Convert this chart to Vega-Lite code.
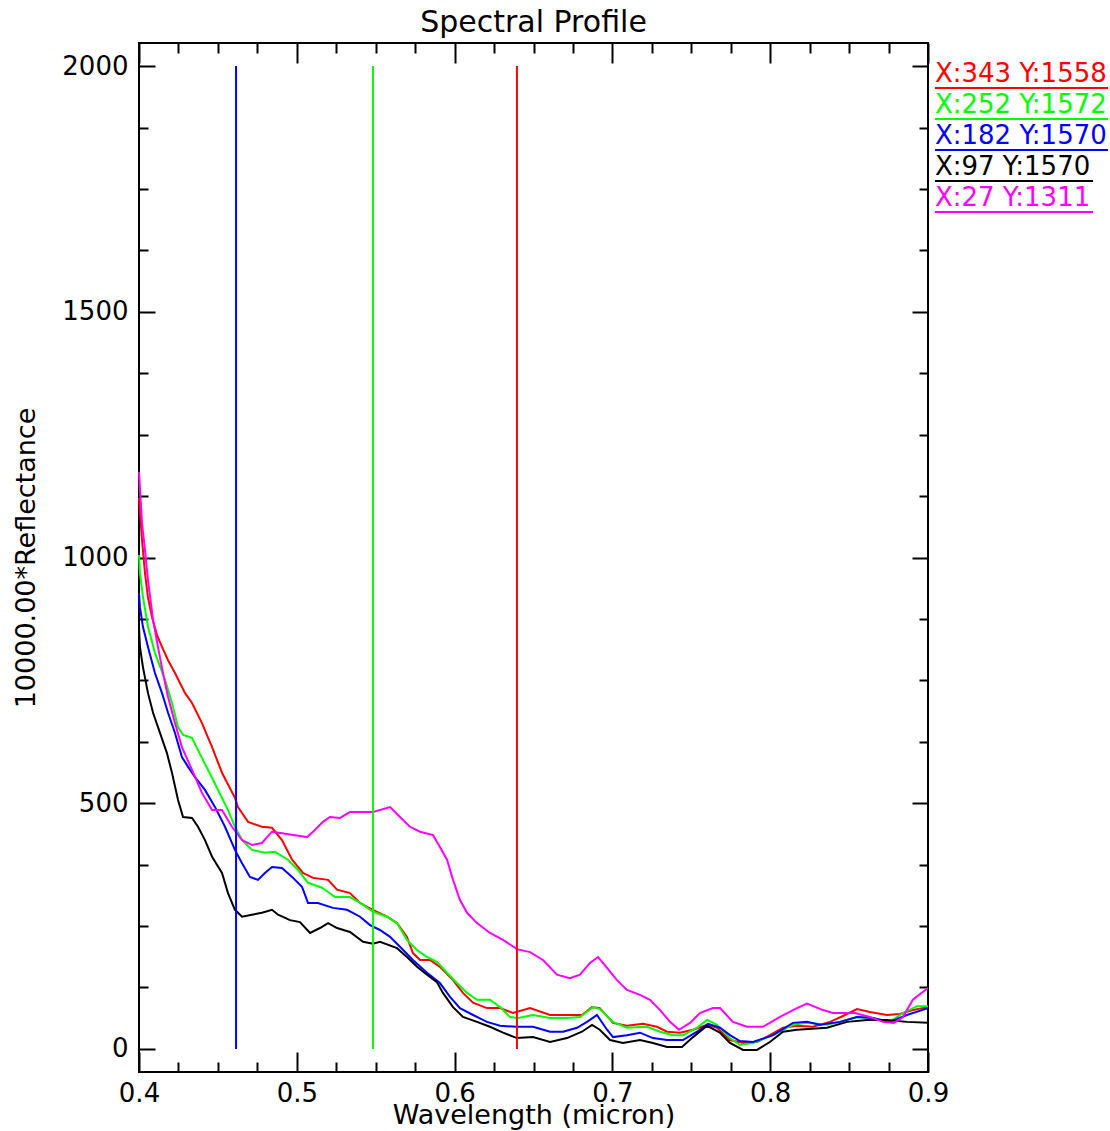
{
  "$schema": "https://vega.github.io/schema/vega-lite/v6.json",
  "width": 789,
  "height": 1029,
  "autosize": {"type": "none"},
  "padding": {"left": 139, "top": 43, "right": 182, "bottom": 59},
  "background": "#ffffff",
  "title": {
    "text": "Spectral Profile",
    "font": "DejaVu Sans",
    "fontSize": 30,
    "fontWeight": "normal",
    "color": "#000000",
    "anchor": "middle",
    "frame": "group",
    "baseline": "alphabetic",
    "offset": -20
  },
  "datasets": {
    "spectra": [
      {"series": "X:343 Y:1558", "wl": 0.4, "value": 1121},
      {"series": "X:343 Y:1558", "wl": 0.4019, "value": 1036},
      {"series": "X:343 Y:1558", "wl": 0.4038, "value": 968},
      {"series": "X:343 Y:1558", "wl": 0.4057, "value": 918},
      {"series": "X:343 Y:1558", "wl": 0.4082, "value": 879},
      {"series": "X:343 Y:1558", "wl": 0.4114, "value": 842},
      {"series": "X:343 Y:1558", "wl": 0.4146, "value": 818},
      {"series": "X:343 Y:1558", "wl": 0.4184, "value": 791},
      {"series": "X:343 Y:1558", "wl": 0.4228, "value": 765},
      {"series": "X:343 Y:1558", "wl": 0.4292, "value": 724},
      {"series": "X:343 Y:1558", "wl": 0.4336, "value": 704},
      {"series": "X:343 Y:1558", "wl": 0.4399, "value": 663},
      {"series": "X:343 Y:1558", "wl": 0.4463, "value": 614},
      {"series": "X:343 Y:1558", "wl": 0.4526, "value": 562},
      {"series": "X:343 Y:1558", "wl": 0.4608, "value": 511},
      {"series": "X:343 Y:1558", "wl": 0.4627, "value": 492},
      {"series": "X:343 Y:1558", "wl": 0.4691, "value": 462},
      {"series": "X:343 Y:1558", "wl": 0.4779, "value": 452},
      {"series": "X:343 Y:1558", "wl": 0.4843, "value": 450},
      {"series": "X:343 Y:1558", "wl": 0.4906, "value": 425},
      {"series": "X:343 Y:1558", "wl": 0.497, "value": 385},
      {"series": "X:343 Y:1558", "wl": 0.5039, "value": 358},
      {"series": "X:343 Y:1558", "wl": 0.5103, "value": 348},
      {"series": "X:343 Y:1558", "wl": 0.5198, "value": 344},
      {"series": "X:343 Y:1558", "wl": 0.5255, "value": 324},
      {"series": "X:343 Y:1558", "wl": 0.5337, "value": 317},
      {"series": "X:343 Y:1558", "wl": 0.5401, "value": 297},
      {"series": "X:343 Y:1558", "wl": 0.5445, "value": 289},
      {"series": "X:343 Y:1558", "wl": 0.5508, "value": 279},
      {"series": "X:343 Y:1558", "wl": 0.5572, "value": 269},
      {"series": "X:343 Y:1558", "wl": 0.5635, "value": 256},
      {"series": "X:343 Y:1558", "wl": 0.5698, "value": 228},
      {"series": "X:343 Y:1558", "wl": 0.5736, "value": 195},
      {"series": "X:343 Y:1558", "wl": 0.5781, "value": 181},
      {"series": "X:343 Y:1558", "wl": 0.5844, "value": 181},
      {"series": "X:343 Y:1558", "wl": 0.5907, "value": 167},
      {"series": "X:343 Y:1558", "wl": 0.599, "value": 140},
      {"series": "X:343 Y:1558", "wl": 0.6053, "value": 114},
      {"series": "X:343 Y:1558", "wl": 0.6117, "value": 94},
      {"series": "X:343 Y:1558", "wl": 0.6205, "value": 83},
      {"series": "X:343 Y:1558", "wl": 0.6288, "value": 83},
      {"series": "X:343 Y:1558", "wl": 0.637, "value": 73},
      {"series": "X:343 Y:1558", "wl": 0.6478, "value": 83},
      {"series": "X:343 Y:1558", "wl": 0.6605, "value": 69},
      {"series": "X:343 Y:1558", "wl": 0.6706, "value": 69},
      {"series": "X:343 Y:1558", "wl": 0.6807, "value": 69},
      {"series": "X:343 Y:1558", "wl": 0.6871, "value": 85},
      {"series": "X:343 Y:1558", "wl": 0.692, "value": 83},
      {"series": "X:343 Y:1558", "wl": 0.7004, "value": 53},
      {"series": "X:343 Y:1558", "wl": 0.7092, "value": 47},
      {"series": "X:343 Y:1558", "wl": 0.7194, "value": 51},
      {"series": "X:343 Y:1558", "wl": 0.7283, "value": 45},
      {"series": "X:343 Y:1558", "wl": 0.7346, "value": 35},
      {"series": "X:343 Y:1558", "wl": 0.7428, "value": 33},
      {"series": "X:343 Y:1558", "wl": 0.7511, "value": 39},
      {"series": "X:343 Y:1558", "wl": 0.76, "value": 49},
      {"series": "X:343 Y:1558", "wl": 0.7663, "value": 43},
      {"series": "X:343 Y:1558", "wl": 0.7745, "value": 18},
      {"series": "X:343 Y:1558", "wl": 0.7828, "value": 12},
      {"series": "X:343 Y:1558", "wl": 0.7916, "value": 14},
      {"series": "X:343 Y:1558", "wl": 0.7998, "value": 28},
      {"series": "X:343 Y:1558", "wl": 0.8081, "value": 43},
      {"series": "X:343 Y:1558", "wl": 0.817, "value": 47},
      {"series": "X:343 Y:1558", "wl": 0.8271, "value": 45},
      {"series": "X:343 Y:1558", "wl": 0.8379, "value": 55},
      {"series": "X:343 Y:1558", "wl": 0.8461, "value": 67},
      {"series": "X:343 Y:1558", "wl": 0.855, "value": 81},
      {"series": "X:343 Y:1558", "wl": 0.8632, "value": 75},
      {"series": "X:343 Y:1558", "wl": 0.874, "value": 69},
      {"series": "X:343 Y:1558", "wl": 0.8822, "value": 71},
      {"series": "X:343 Y:1558", "wl": 0.8904, "value": 79},
      {"series": "X:343 Y:1558", "wl": 0.9, "value": 85},

      {"series": "X:252 Y:1572", "wl": 0.4, "value": 1005},
      {"series": "X:252 Y:1572", "wl": 0.4006, "value": 968},
      {"series": "X:252 Y:1572", "wl": 0.4025, "value": 920},
      {"series": "X:252 Y:1572", "wl": 0.4057, "value": 859},
      {"series": "X:252 Y:1572", "wl": 0.4101, "value": 806},
      {"series": "X:252 Y:1572", "wl": 0.4165, "value": 751},
      {"series": "X:252 Y:1572", "wl": 0.4209, "value": 704},
      {"series": "X:252 Y:1572", "wl": 0.4247, "value": 655},
      {"series": "X:252 Y:1572", "wl": 0.4279, "value": 639},
      {"series": "X:252 Y:1572", "wl": 0.4336, "value": 633},
      {"series": "X:252 Y:1572", "wl": 0.4374, "value": 608},
      {"series": "X:252 Y:1572", "wl": 0.4437, "value": 568},
      {"series": "X:252 Y:1572", "wl": 0.4501, "value": 527},
      {"series": "X:252 Y:1572", "wl": 0.4564, "value": 486},
      {"series": "X:252 Y:1572", "wl": 0.4608, "value": 452},
      {"series": "X:252 Y:1572", "wl": 0.4653, "value": 425},
      {"series": "X:252 Y:1572", "wl": 0.4716, "value": 405},
      {"series": "X:252 Y:1572", "wl": 0.4798, "value": 399},
      {"series": "X:252 Y:1572", "wl": 0.4862, "value": 401},
      {"series": "X:252 Y:1572", "wl": 0.4944, "value": 385},
      {"series": "X:252 Y:1572", "wl": 0.5008, "value": 364},
      {"series": "X:252 Y:1572", "wl": 0.5071, "value": 338},
      {"series": "X:252 Y:1572", "wl": 0.516, "value": 328},
      {"series": "X:252 Y:1572", "wl": 0.5242, "value": 309},
      {"series": "X:252 Y:1572", "wl": 0.5337, "value": 309},
      {"series": "X:252 Y:1572", "wl": 0.5401, "value": 297},
      {"series": "X:252 Y:1572", "wl": 0.5483, "value": 279},
      {"series": "X:252 Y:1572", "wl": 0.5572, "value": 269},
      {"series": "X:252 Y:1572", "wl": 0.5635, "value": 256},
      {"series": "X:252 Y:1572", "wl": 0.5698, "value": 222},
      {"series": "X:252 Y:1572", "wl": 0.5762, "value": 201},
      {"series": "X:252 Y:1572", "wl": 0.5825, "value": 187},
      {"series": "X:252 Y:1572", "wl": 0.5888, "value": 177},
      {"series": "X:252 Y:1572", "wl": 0.5952, "value": 155},
      {"series": "X:252 Y:1572", "wl": 0.6015, "value": 134},
      {"series": "X:252 Y:1572", "wl": 0.6079, "value": 114},
      {"series": "X:252 Y:1572", "wl": 0.6142, "value": 100},
      {"series": "X:252 Y:1572", "wl": 0.6224, "value": 100},
      {"series": "X:252 Y:1572", "wl": 0.6288, "value": 85},
      {"series": "X:252 Y:1572", "wl": 0.6351, "value": 65},
      {"series": "X:252 Y:1572", "wl": 0.6402, "value": 63},
      {"series": "X:252 Y:1572", "wl": 0.6497, "value": 69},
      {"series": "X:252 Y:1572", "wl": 0.6605, "value": 63},
      {"series": "X:252 Y:1572", "wl": 0.6712, "value": 63},
      {"series": "X:252 Y:1572", "wl": 0.6795, "value": 65},
      {"series": "X:252 Y:1572", "wl": 0.6877, "value": 85},
      {"series": "X:252 Y:1572", "wl": 0.692, "value": 81},
      {"series": "X:252 Y:1572", "wl": 0.7004, "value": 55},
      {"series": "X:252 Y:1572", "wl": 0.7092, "value": 43},
      {"series": "X:252 Y:1572", "wl": 0.7219, "value": 45},
      {"series": "X:252 Y:1572", "wl": 0.7302, "value": 35},
      {"series": "X:252 Y:1572", "wl": 0.7384, "value": 28},
      {"series": "X:252 Y:1572", "wl": 0.7447, "value": 28},
      {"series": "X:252 Y:1572", "wl": 0.7536, "value": 43},
      {"series": "X:252 Y:1572", "wl": 0.76, "value": 59},
      {"series": "X:252 Y:1572", "wl": 0.7663, "value": 49},
      {"series": "X:252 Y:1572", "wl": 0.7745, "value": 22},
      {"series": "X:252 Y:1572", "wl": 0.7808, "value": 8},
      {"series": "X:252 Y:1572", "wl": 0.7891, "value": 12},
      {"series": "X:252 Y:1572", "wl": 0.8018, "value": 28},
      {"series": "X:252 Y:1572", "wl": 0.8144, "value": 49},
      {"series": "X:252 Y:1572", "wl": 0.8233, "value": 53},
      {"series": "X:252 Y:1572", "wl": 0.836, "value": 49},
      {"series": "X:252 Y:1572", "wl": 0.8442, "value": 55},
      {"series": "X:252 Y:1572", "wl": 0.855, "value": 65},
      {"series": "X:252 Y:1572", "wl": 0.8651, "value": 63},
      {"series": "X:252 Y:1572", "wl": 0.8758, "value": 55},
      {"series": "X:252 Y:1572", "wl": 0.8841, "value": 73},
      {"series": "X:252 Y:1572", "wl": 0.893, "value": 87},
      {"series": "X:252 Y:1572", "wl": 0.9, "value": 87},

      {"series": "X:182 Y:1570", "wl": 0.4, "value": 928},
      {"series": "X:182 Y:1570", "wl": 0.4006, "value": 899},
      {"series": "X:182 Y:1570", "wl": 0.4025, "value": 859},
      {"series": "X:182 Y:1570", "wl": 0.4057, "value": 818},
      {"series": "X:182 Y:1570", "wl": 0.4101, "value": 765},
      {"series": "X:182 Y:1570", "wl": 0.4146, "value": 724},
      {"series": "X:182 Y:1570", "wl": 0.4184, "value": 684},
      {"series": "X:182 Y:1570", "wl": 0.4228, "value": 643},
      {"series": "X:182 Y:1570", "wl": 0.4272, "value": 594},
      {"series": "X:182 Y:1570", "wl": 0.4311, "value": 574},
      {"series": "X:182 Y:1570", "wl": 0.4355, "value": 553},
      {"series": "X:182 Y:1570", "wl": 0.4418, "value": 527},
      {"series": "X:182 Y:1570", "wl": 0.4482, "value": 492},
      {"series": "X:182 Y:1570", "wl": 0.4545, "value": 452},
      {"series": "X:182 Y:1570", "wl": 0.4608, "value": 405},
      {"series": "X:182 Y:1570", "wl": 0.4653, "value": 378},
      {"series": "X:182 Y:1570", "wl": 0.4703, "value": 350},
      {"series": "X:182 Y:1570", "wl": 0.4754, "value": 344},
      {"series": "X:182 Y:1570", "wl": 0.4798, "value": 358},
      {"series": "X:182 Y:1570", "wl": 0.4843, "value": 370},
      {"series": "X:182 Y:1570", "wl": 0.4906, "value": 368},
      {"series": "X:182 Y:1570", "wl": 0.497, "value": 350},
      {"series": "X:182 Y:1570", "wl": 0.5033, "value": 330},
      {"series": "X:182 Y:1570", "wl": 0.5071, "value": 297},
      {"series": "X:182 Y:1570", "wl": 0.5134, "value": 297},
      {"series": "X:182 Y:1570", "wl": 0.5229, "value": 287},
      {"series": "X:182 Y:1570", "wl": 0.5318, "value": 283},
      {"series": "X:182 Y:1570", "wl": 0.5401, "value": 269},
      {"series": "X:182 Y:1570", "wl": 0.5464, "value": 252},
      {"series": "X:182 Y:1570", "wl": 0.5527, "value": 242},
      {"series": "X:182 Y:1570", "wl": 0.5591, "value": 228},
      {"series": "X:182 Y:1570", "wl": 0.5654, "value": 208},
      {"series": "X:182 Y:1570", "wl": 0.5736, "value": 181},
      {"series": "X:182 Y:1570", "wl": 0.5825, "value": 155},
      {"series": "X:182 Y:1570", "wl": 0.5907, "value": 134},
      {"series": "X:182 Y:1570", "wl": 0.5971, "value": 106},
      {"series": "X:182 Y:1570", "wl": 0.6034, "value": 83},
      {"series": "X:182 Y:1570", "wl": 0.6117, "value": 69},
      {"series": "X:182 Y:1570", "wl": 0.6205, "value": 55},
      {"series": "X:182 Y:1570", "wl": 0.6288, "value": 47},
      {"series": "X:182 Y:1570", "wl": 0.6395, "value": 45},
      {"series": "X:182 Y:1570", "wl": 0.6497, "value": 45},
      {"series": "X:182 Y:1570", "wl": 0.6605, "value": 35},
      {"series": "X:182 Y:1570", "wl": 0.6687, "value": 35},
      {"series": "X:182 Y:1570", "wl": 0.6776, "value": 43},
      {"series": "X:182 Y:1570", "wl": 0.6839, "value": 55},
      {"series": "X:182 Y:1570", "wl": 0.6902, "value": 69},
      {"series": "X:182 Y:1570", "wl": 0.6966, "value": 39},
      {"series": "X:182 Y:1570", "wl": 0.7004, "value": 24},
      {"series": "X:182 Y:1570", "wl": 0.7092, "value": 28},
      {"series": "X:182 Y:1570", "wl": 0.7175, "value": 33},
      {"series": "X:182 Y:1570", "wl": 0.7257, "value": 22},
      {"series": "X:182 Y:1570", "wl": 0.7346, "value": 18},
      {"series": "X:182 Y:1570", "wl": 0.7447, "value": 18},
      {"series": "X:182 Y:1570", "wl": 0.7536, "value": 35},
      {"series": "X:182 Y:1570", "wl": 0.7606, "value": 51},
      {"series": "X:182 Y:1570", "wl": 0.7682, "value": 43},
      {"series": "X:182 Y:1570", "wl": 0.7745, "value": 28},
      {"series": "X:182 Y:1570", "wl": 0.7808, "value": 16},
      {"series": "X:182 Y:1570", "wl": 0.7891, "value": 14},
      {"series": "X:182 Y:1570", "wl": 0.8018, "value": 28},
      {"series": "X:182 Y:1570", "wl": 0.8144, "value": 53},
      {"series": "X:182 Y:1570", "wl": 0.8233, "value": 55},
      {"series": "X:182 Y:1570", "wl": 0.8316, "value": 49},
      {"series": "X:182 Y:1570", "wl": 0.8442, "value": 55},
      {"series": "X:182 Y:1570", "wl": 0.855, "value": 65},
      {"series": "X:182 Y:1570", "wl": 0.8651, "value": 63},
      {"series": "X:182 Y:1570", "wl": 0.8758, "value": 55},
      {"series": "X:182 Y:1570", "wl": 0.8866, "value": 69},
      {"series": "X:182 Y:1570", "wl": 0.9, "value": 83},

      {"series": "X:97 Y:1570", "wl": 0.4, "value": 859},
      {"series": "X:97 Y:1570", "wl": 0.4006, "value": 818},
      {"series": "X:97 Y:1570", "wl": 0.4025, "value": 777},
      {"series": "X:97 Y:1570", "wl": 0.4057, "value": 724},
      {"series": "X:97 Y:1570", "wl": 0.4089, "value": 684},
      {"series": "X:97 Y:1570", "wl": 0.4133, "value": 643},
      {"series": "X:97 Y:1570", "wl": 0.4177, "value": 602},
      {"series": "X:97 Y:1570", "wl": 0.4209, "value": 562},
      {"series": "X:97 Y:1570", "wl": 0.4247, "value": 507},
      {"series": "X:97 Y:1570", "wl": 0.4279, "value": 472},
      {"series": "X:97 Y:1570", "wl": 0.4336, "value": 470},
      {"series": "X:97 Y:1570", "wl": 0.4374, "value": 452},
      {"series": "X:97 Y:1570", "wl": 0.4418, "value": 425},
      {"series": "X:97 Y:1570", "wl": 0.4463, "value": 391},
      {"series": "X:97 Y:1570", "wl": 0.4526, "value": 358},
      {"series": "X:97 Y:1570", "wl": 0.4564, "value": 317},
      {"series": "X:97 Y:1570", "wl": 0.4608, "value": 283},
      {"series": "X:97 Y:1570", "wl": 0.4653, "value": 269},
      {"series": "X:97 Y:1570", "wl": 0.4716, "value": 273},
      {"series": "X:97 Y:1570", "wl": 0.4779, "value": 277},
      {"series": "X:97 Y:1570", "wl": 0.4843, "value": 283},
      {"series": "X:97 Y:1570", "wl": 0.4881, "value": 273},
      {"series": "X:97 Y:1570", "wl": 0.4957, "value": 262},
      {"series": "X:97 Y:1570", "wl": 0.502, "value": 258},
      {"series": "X:97 Y:1570", "wl": 0.5084, "value": 236},
      {"series": "X:97 Y:1570", "wl": 0.5147, "value": 246},
      {"series": "X:97 Y:1570", "wl": 0.5198, "value": 256},
      {"series": "X:97 Y:1570", "wl": 0.5255, "value": 246},
      {"series": "X:97 Y:1570", "wl": 0.5337, "value": 238},
      {"series": "X:97 Y:1570", "wl": 0.542, "value": 218},
      {"series": "X:97 Y:1570", "wl": 0.5483, "value": 214},
      {"series": "X:97 Y:1570", "wl": 0.5527, "value": 218},
      {"series": "X:97 Y:1570", "wl": 0.5635, "value": 205},
      {"series": "X:97 Y:1570", "wl": 0.5698, "value": 187},
      {"series": "X:97 Y:1570", "wl": 0.5762, "value": 167},
      {"series": "X:97 Y:1570", "wl": 0.5825, "value": 151},
      {"series": "X:97 Y:1570", "wl": 0.5888, "value": 136},
      {"series": "X:97 Y:1570", "wl": 0.5926, "value": 114},
      {"series": "X:97 Y:1570", "wl": 0.599, "value": 85},
      {"series": "X:97 Y:1570", "wl": 0.6053, "value": 65},
      {"series": "X:97 Y:1570", "wl": 0.6142, "value": 55},
      {"series": "X:97 Y:1570", "wl": 0.6224, "value": 45},
      {"series": "X:97 Y:1570", "wl": 0.6307, "value": 33},
      {"series": "X:97 Y:1570", "wl": 0.6395, "value": 22},
      {"series": "X:97 Y:1570", "wl": 0.6497, "value": 24},
      {"series": "X:97 Y:1570", "wl": 0.6605, "value": 14},
      {"series": "X:97 Y:1570", "wl": 0.6712, "value": 22},
      {"series": "X:97 Y:1570", "wl": 0.6807, "value": 35},
      {"series": "X:97 Y:1570", "wl": 0.6871, "value": 49},
      {"series": "X:97 Y:1570", "wl": 0.692, "value": 39},
      {"series": "X:97 Y:1570", "wl": 0.6985, "value": 18},
      {"series": "X:97 Y:1570", "wl": 0.7067, "value": 12},
      {"series": "X:97 Y:1570", "wl": 0.7175, "value": 18},
      {"series": "X:97 Y:1570", "wl": 0.7257, "value": 12},
      {"series": "X:97 Y:1570", "wl": 0.7346, "value": 4},
      {"series": "X:97 Y:1570", "wl": 0.7441, "value": 4},
      {"series": "X:97 Y:1570", "wl": 0.7511, "value": 24},
      {"series": "X:97 Y:1570", "wl": 0.76, "value": 47},
      {"series": "X:97 Y:1570", "wl": 0.7682, "value": 33},
      {"series": "X:97 Y:1570", "wl": 0.7745, "value": 12},
      {"series": "X:97 Y:1570", "wl": 0.7828, "value": -2},
      {"series": "X:97 Y:1570", "wl": 0.7916, "value": -2},
      {"series": "X:97 Y:1570", "wl": 0.7998, "value": 14},
      {"series": "X:97 Y:1570", "wl": 0.8081, "value": 35},
      {"series": "X:97 Y:1570", "wl": 0.817, "value": 39},
      {"series": "X:97 Y:1570", "wl": 0.836, "value": 43},
      {"series": "X:97 Y:1570", "wl": 0.8487, "value": 55},
      {"series": "X:97 Y:1570", "wl": 0.8613, "value": 59},
      {"series": "X:97 Y:1570", "wl": 0.874, "value": 59},
      {"series": "X:97 Y:1570", "wl": 0.8866, "value": 55},
      {"series": "X:97 Y:1570", "wl": 0.9, "value": 53},

      {"series": "X:27 Y:1311", "wl": 0.4, "value": 1174},
      {"series": "X:27 Y:1311", "wl": 0.4019, "value": 1070},
      {"series": "X:27 Y:1311", "wl": 0.4038, "value": 1015},
      {"series": "X:27 Y:1311", "wl": 0.4057, "value": 954},
      {"series": "X:27 Y:1311", "wl": 0.4089, "value": 873},
      {"series": "X:27 Y:1311", "wl": 0.412, "value": 818},
      {"series": "X:27 Y:1311", "wl": 0.4152, "value": 765},
      {"series": "X:27 Y:1311", "wl": 0.4184, "value": 716},
      {"series": "X:27 Y:1311", "wl": 0.4228, "value": 663},
      {"series": "X:27 Y:1311", "wl": 0.4272, "value": 614},
      {"series": "X:27 Y:1311", "wl": 0.4336, "value": 568},
      {"series": "X:27 Y:1311", "wl": 0.4399, "value": 521},
      {"series": "X:27 Y:1311", "wl": 0.4463, "value": 486},
      {"series": "X:27 Y:1311", "wl": 0.4526, "value": 486},
      {"series": "X:27 Y:1311", "wl": 0.4589, "value": 452},
      {"series": "X:27 Y:1311", "wl": 0.4653, "value": 425},
      {"series": "X:27 Y:1311", "wl": 0.4716, "value": 415},
      {"series": "X:27 Y:1311", "wl": 0.4779, "value": 419},
      {"series": "X:27 Y:1311", "wl": 0.4843, "value": 442},
      {"series": "X:27 Y:1311", "wl": 0.4906, "value": 439},
      {"series": "X:27 Y:1311", "wl": 0.4989, "value": 435},
      {"series": "X:27 Y:1311", "wl": 0.5065, "value": 431},
      {"series": "X:27 Y:1311", "wl": 0.5103, "value": 442},
      {"series": "X:27 Y:1311", "wl": 0.5166, "value": 462},
      {"series": "X:27 Y:1311", "wl": 0.521, "value": 472},
      {"series": "X:27 Y:1311", "wl": 0.5274, "value": 470},
      {"series": "X:27 Y:1311", "wl": 0.5337, "value": 482},
      {"series": "X:27 Y:1311", "wl": 0.5401, "value": 482},
      {"series": "X:27 Y:1311", "wl": 0.5483, "value": 482},
      {"series": "X:27 Y:1311", "wl": 0.5591, "value": 492},
      {"series": "X:27 Y:1311", "wl": 0.5654, "value": 472},
      {"series": "X:27 Y:1311", "wl": 0.5717, "value": 452},
      {"series": "X:27 Y:1311", "wl": 0.5781, "value": 442},
      {"series": "X:27 Y:1311", "wl": 0.5863, "value": 435},
      {"series": "X:27 Y:1311", "wl": 0.5907, "value": 411},
      {"series": "X:27 Y:1311", "wl": 0.5952, "value": 385},
      {"series": "X:27 Y:1311", "wl": 0.599, "value": 344},
      {"series": "X:27 Y:1311", "wl": 0.6034, "value": 303},
      {"series": "X:27 Y:1311", "wl": 0.6079, "value": 277},
      {"series": "X:27 Y:1311", "wl": 0.6142, "value": 256},
      {"series": "X:27 Y:1311", "wl": 0.6224, "value": 236},
      {"series": "X:27 Y:1311", "wl": 0.6307, "value": 222},
      {"series": "X:27 Y:1311", "wl": 0.6395, "value": 203},
      {"series": "X:27 Y:1311", "wl": 0.6478, "value": 197},
      {"series": "X:27 Y:1311", "wl": 0.656, "value": 181},
      {"series": "X:27 Y:1311", "wl": 0.6649, "value": 151},
      {"series": "X:27 Y:1311", "wl": 0.6731, "value": 144},
      {"series": "X:27 Y:1311", "wl": 0.6795, "value": 151},
      {"series": "X:27 Y:1311", "wl": 0.6858, "value": 175},
      {"series": "X:27 Y:1311", "wl": 0.6909, "value": 187},
      {"series": "X:27 Y:1311", "wl": 0.6966, "value": 165},
      {"series": "X:27 Y:1311", "wl": 0.7029, "value": 140},
      {"series": "X:27 Y:1311", "wl": 0.7092, "value": 120},
      {"series": "X:27 Y:1311", "wl": 0.7175, "value": 110},
      {"series": "X:27 Y:1311", "wl": 0.7238, "value": 100},
      {"series": "X:27 Y:1311", "wl": 0.7302, "value": 79},
      {"series": "X:27 Y:1311", "wl": 0.7365, "value": 55},
      {"series": "X:27 Y:1311", "wl": 0.7422, "value": 39},
      {"series": "X:27 Y:1311", "wl": 0.7492, "value": 53},
      {"series": "X:27 Y:1311", "wl": 0.7555, "value": 73},
      {"series": "X:27 Y:1311", "wl": 0.7637, "value": 83},
      {"series": "X:27 Y:1311", "wl": 0.7682, "value": 83},
      {"series": "X:27 Y:1311", "wl": 0.7764, "value": 55},
      {"series": "X:27 Y:1311", "wl": 0.7853, "value": 45},
      {"series": "X:27 Y:1311", "wl": 0.7954, "value": 45},
      {"series": "X:27 Y:1311", "wl": 0.8062, "value": 65},
      {"series": "X:27 Y:1311", "wl": 0.8157, "value": 81},
      {"series": "X:27 Y:1311", "wl": 0.8233, "value": 92},
      {"series": "X:27 Y:1311", "wl": 0.8335, "value": 79},
      {"series": "X:27 Y:1311", "wl": 0.8398, "value": 73},
      {"series": "X:27 Y:1311", "wl": 0.8537, "value": 73},
      {"series": "X:27 Y:1311", "wl": 0.8632, "value": 65},
      {"series": "X:27 Y:1311", "wl": 0.8715, "value": 55},
      {"series": "X:27 Y:1311", "wl": 0.8784, "value": 53},
      {"series": "X:27 Y:1311", "wl": 0.8841, "value": 65},
      {"series": "X:27 Y:1311", "wl": 0.8904, "value": 100},
      {"series": "X:27 Y:1311", "wl": 0.9, "value": 124}
    ]
  },
  "layer": [
    {
      "data": {"name": "spectra"},
      "mark": {"type": "line", "strokeWidth": 2},
      "encoding": {
        "x": {
          "field": "wl",
          "type": "quantitative",
          "scale": {"domain": [0.4, 0.9], "nice": false, "zero": false},
          "axis": {
            "orient": "bottom",
            "values": [0.4, 0.425, 0.45, 0.475, 0.5, 0.525, 0.55, 0.575, 0.6, 0.625, 0.65, 0.675, 0.7, 0.725, 0.75, 0.775, 0.8, 0.825, 0.85, 0.875, 0.9],
            "tickSize": {"condition": {"test": "abs(datum.value * 10 - round(datum.value * 10)) < 0.001", "value": -20}, "value": -10},
            "labelExpr": "abs(datum.value * 10 - round(datum.value * 10)) < 0.001 ? format(datum.value, '.1f') : ''",
            "labelPadding": 28,
            "labelFlush": false,
            "labelOverlap": false,
            "title": "Wavelength (micron)",
            "titleFontSize": 27,
            "titlePadding": -14
          }
        },
        "y": {
          "field": "value",
          "type": "quantitative",
          "scale": {"domain": [-47, 2047], "nice": false, "zero": false},
          "axis": {
            "orient": "left",
            "values": [0, 125, 250, 375, 500, 625, 750, 875, 1000, 1125, 1250, 1375, 1500, 1625, 1750, 1875, 2000],
            "tickSize": {"condition": {"test": "datum.value % 500 == 0", "value": -16}, "value": -9},
            "labelExpr": "datum.value % 500 == 0 ? format(datum.value, 'd') : ''",
            "labelPadding": 27,
            "labelOverlap": false,
            "labelFlush": false,
            "title": "10000.00*Reflectance",
            "titleFontSize": 27,
            "titlePadding": 21
          }
        },
        "color": {
          "field": "series",
          "type": "nominal",
          "scale": {
            "domain": ["X:343 Y:1558", "X:252 Y:1572", "X:182 Y:1570", "X:97 Y:1570", "X:27 Y:1311", "Blue band", "Green band", "Red band"],
            "range": ["#ff0000", "#00ff00", "#0000ff", "#000000", "#ff00ff", "#0000ff", "#00ff00", "#ff0000"]
          },
          "legend": null
        }
      }
    },
    {
      "data": {"values": [
        {"band": "Blue band", "wl": 0.4615},
        {"band": "Green band", "wl": 0.5483},
        {"band": "Red band", "wl": 0.6395}
      ]},
      "mark": {"type": "rule", "strokeWidth": 2},
      "encoding": {
        "x": {
          "field": "wl",
          "type": "quantitative",
          "axis": {
            "orient": "top",
            "values": [0.4, 0.425, 0.45, 0.475, 0.5, 0.525, 0.55, 0.575, 0.6, 0.625, 0.65, 0.675, 0.7, 0.725, 0.75, 0.775, 0.8, 0.825, 0.85, 0.875, 0.9],
            "tickSize": {"condition": {"test": "abs(datum.value * 10 - round(datum.value * 10)) < 0.001", "value": -20}, "value": -10},
            "labels": false,
            "title": null,
            "minExtent": 0,
            "maxExtent": 0
          }
        },
        "y": {
          "datum": 0,
          "type": "quantitative",
          "scale": {"domain": [-47, 2047], "nice": false, "zero": false},
          "axis": {
            "orient": "right",
            "values": [0, 125, 250, 375, 500, 625, 750, 875, 1000, 1125, 1250, 1375, 1500, 1625, 1750, 1875, 2000],
            "tickSize": {"condition": {"test": "datum.value % 500 == 0", "value": -16}, "value": -9},
            "labels": false,
            "title": null,
            "minExtent": 0,
            "maxExtent": 0
          }
        },
        "y2": {"datum": 2000},
        "color": {"field": "band", "type": "nominal"}
      }
    },
    {
      "data": {"name": "spectra"},
      "transform": [{"aggregate": [{"op": "count", "as": "points"}], "groupby": ["series"]}],
      "encoding": {
        "y": {
          "field": "series",
          "type": "nominal",
          "scale": {
            "type": "point",
            "domain": ["X:343 Y:1558", "X:252 Y:1572", "X:182 Y:1570", "X:97 Y:1570", "X:27 Y:1311"],
            "range": [39, 163],
            "padding": 0
          },
          "axis": null
        },
        "color": {"field": "series", "type": "nominal"}
      },
      "layer": [
        {
          "mark": {"type": "text", "align": "left", "baseline": "alphabetic", "font": "DejaVu Sans", "fontSize": 26},
          "encoding": {
            "x": {"datum": 0.9044, "axis": null},
            "text": {"field": "series"}
          }
        },
        {
          "transform": [{"filter": "length(datum.series) == 12"}],
          "mark": {"type": "rule", "strokeWidth": 2, "yOffset": 6},
          "encoding": {
            "x": {"datum": 0.9044, "axis": null},
            "x2": {"datum": 1.0141}
          }
        },
        {
          "transform": [{"filter": "length(datum.series) == 11"}],
          "mark": {"type": "rule", "strokeWidth": 2, "yOffset": 6},
          "encoding": {
            "x": {"datum": 0.9044, "axis": null},
            "x2": {"datum": 1.0046}
          }
        }
      ]
    }
  ],
  "resolve": {
    "scale": {"y": "independent"},
    "axis": {"x": "independent", "y": "independent"}
  },
  "config": {
    "view": {"stroke": "#000000", "strokeWidth": 2},
    "axis": {
      "domain": false,
      "grid": false,
      "tickColor": "#000000",
      "tickWidth": 2,
      "labelFont": "DejaVu Sans",
      "labelFontSize": 26,
      "labelColor": "#000000",
      "titleFont": "DejaVu Sans",
      "titleFontWeight": "normal",
      "titleColor": "#000000"
    }
  }
}
